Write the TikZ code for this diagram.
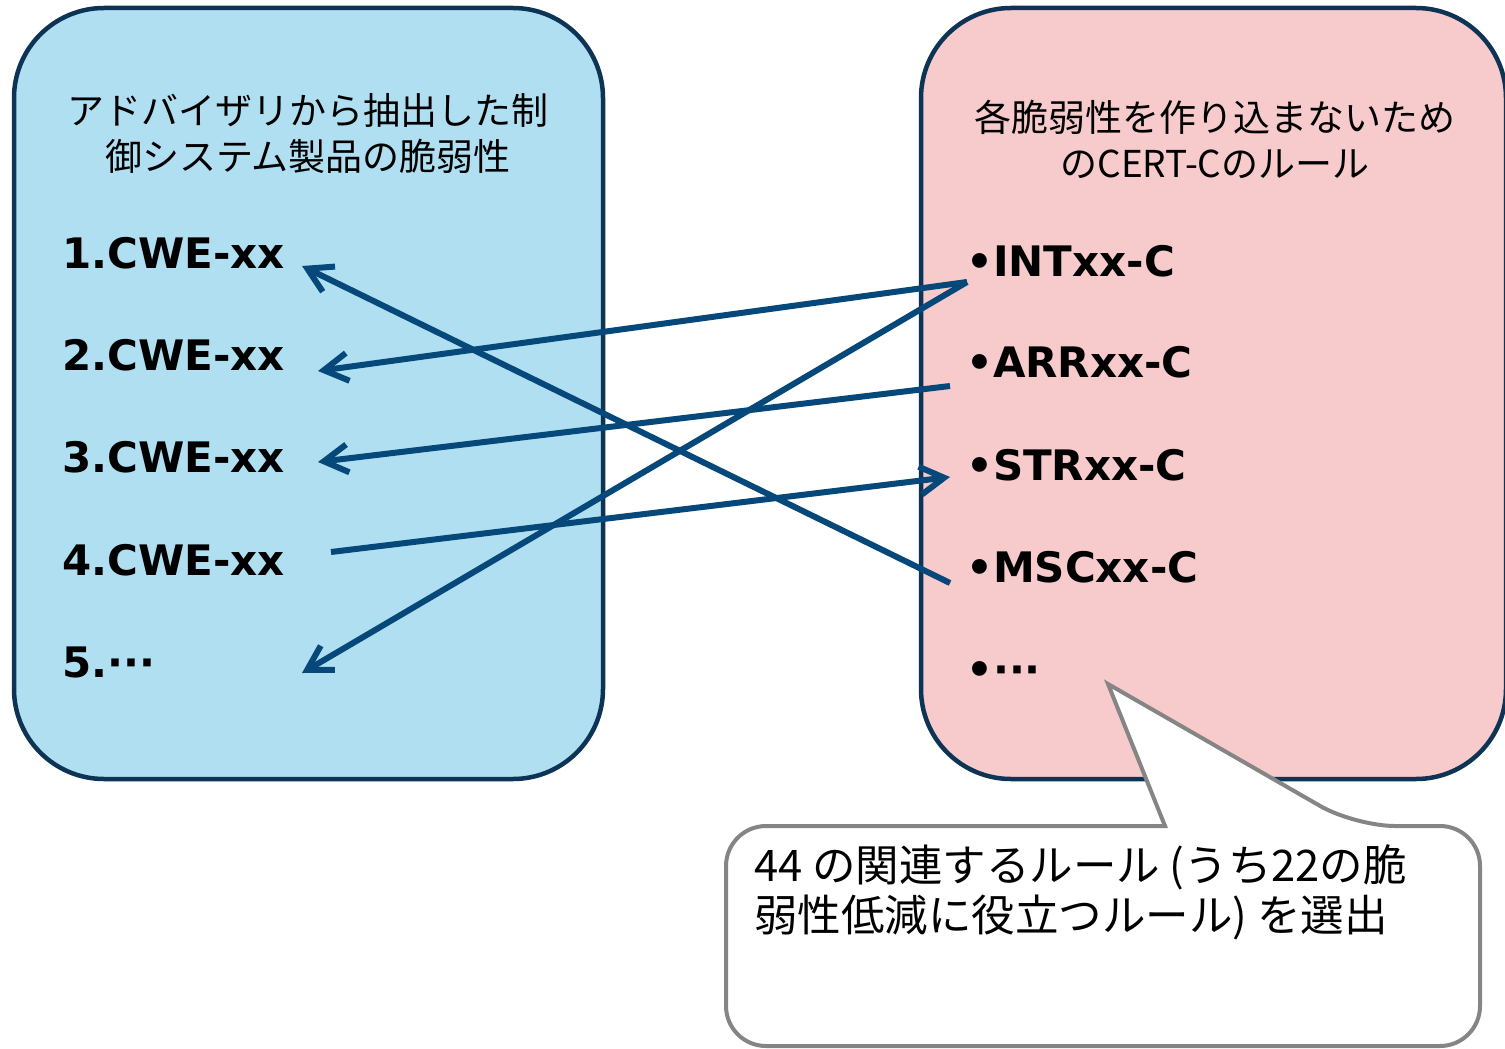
\documentclass[tikz,border=0pt]{standalone}
\usepackage{fontspec}
\setmainfont{DejaVu Sans}
\newfontfamily\jpfont{Noto Sans CJK JP}
\usetikzlibrary{arrows.meta}

\definecolor{navy}{HTML}{0E3455}
\definecolor{skyfill}{HTML}{B0DFF2}
\definecolor{rosefill}{HTML}{F7CACC}
\definecolor{linkblue}{HTML}{07487A}
\definecolor{calloutgray}{HTML}{858585}

\begin{document}
\begin{tikzpicture}[x=1pt,y=-1pt,
  panel/.style={draw=navy, line width=4.5pt, rounded corners=90pt},
  item/.style={anchor=base west, inner sep=0pt, text=black,
    font=\fontsize{42}{48}\selectfont\bfseries},
  heading/.style={align=center, inner sep=0pt, text=black,
    font=\jpfont\fontsize{37}{46}\selectfont},
  note/.style={align=left, inner sep=0pt, anchor=west, text=black,
    font=\jpfont\fontsize{43.5}{50}\selectfont},
  link/.style={draw=linkblue, line width=6pt,
    -{Straight Barb[length=24pt,width=28pt]}},
  callout/.style={draw=calloutgray, line width=4pt, fill=white},
]
\useasboundingbox (0,0) rectangle (1505,1049);

% the two panels
\path[panel, fill=skyfill] (14,8) rectangle (603,779);
\path[panel, fill=rosefill] (921,8) rectangle (1506,779);

% panel headings
\node[heading] (advisory) at (308,133)
  {アドバイザリから抽出した制\\御システム製品の脆弱性};
\node[heading] (rules) at (1215,139)
  {各脆弱性を作り込まないため\\のCERT-Cのルール};

% vulnerabilities
\node[item] (cwe1) at (62,268) {1.CWE-xx};
\node[item] (cwe2) at (62,370) {2.CWE-xx};
\node[item] (cwe3) at (62,472) {3.CWE-xx};
\node[item] (cwe4) at (62,575) {4.CWE-xx};
\node[item] (cwe5) at (62,677) {5.···};

% CERT-C rules
\node[item] (int) at (966,276) {•INTxx-C};
\node[item] (arr) at (966,377) {•ARRxx-C};
\node[item] (str) at (966,480) {•STRxx-C};
\node[item] (msc) at (966,582) {•MSCxx-C};
\node[item] (etc) at (966,684) {•···};

% connector end points beside the entries
\coordinate (cwe1-p) at (302,266);
\coordinate (cwe2-p) at (318,371);
\coordinate (cwe3-p) at (318,462);
\coordinate (cwe4-p) at (331,552);
\coordinate (cwe5-p) at (302,673);
\coordinate (int-p) at (967,282);
\coordinate (arr-p) at (950,386);
\coordinate (str-p) at (950,477);
\coordinate (msc-p) at (950,583);

% mapping between rules and vulnerabilities
\draw[link] (msc-p) -- (cwe1-p);
\draw[link] (int-p) -- (cwe2-p);
\draw[link] (int-p) -- (cwe5-p);
\draw[link] (arr-p) -- (cwe3-p);
\draw[link] (cwe4-p) -- (str-p);

% speech bubble pointing at the rule list
\coordinate (tip) at (1108,684);
\draw[callout] (1165,826) [rounded corners=40pt] -- (726,826) -- (726,1046)
  -- (1480,1046) -- (1480,826) -- (1355,826) [sharp corners] -- (tip) -- cycle;
\node[note] (summary) at (754,892)
  {44 の関連するルール (うち22の脆\\弱性低減に役立つルール) を選出};
\end{tikzpicture}
\end{document}
